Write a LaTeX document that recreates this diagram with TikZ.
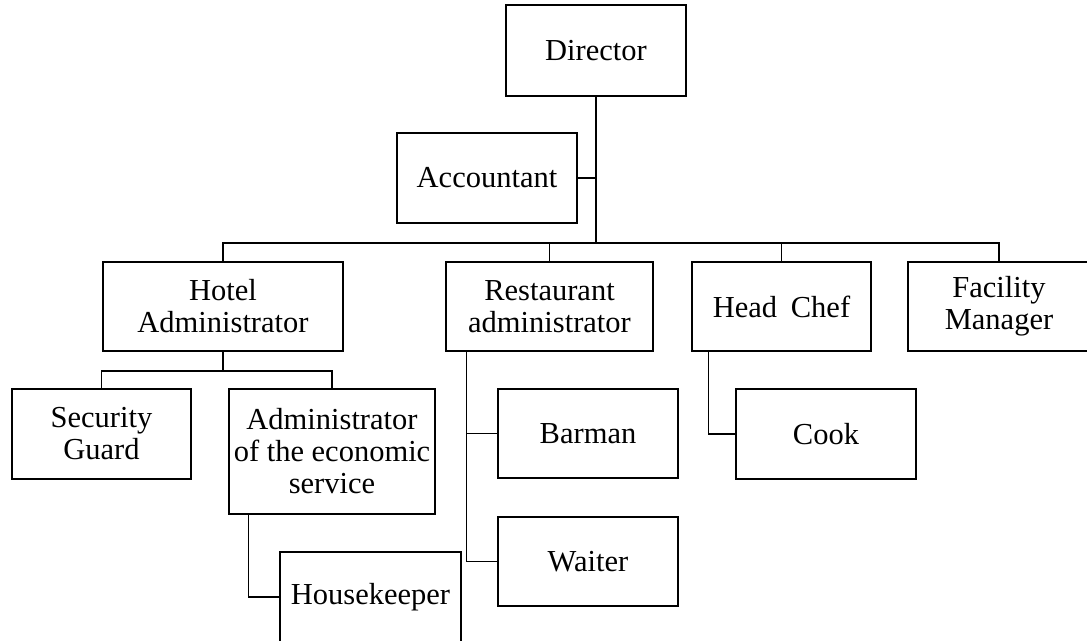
\documentclass[tikz,border=0pt]{standalone}
\usepackage{fontspec}
\setmainfont{Liberation Serif}
\usetikzlibrary{calc}
\tikzset{
  box/.style={draw=black, line width=1.5pt, fill=white, inner sep=0pt, align=center,
    font=\fontsize{30.5}{32}\selectfont},
  conn/.style={draw=black, line width=1.5pt}
}
\begin{document}
\begin{tikzpicture}[x=1pt,y=-1pt]
\useasboundingbox (0,0) rectangle (1087,640);
\clip (0,0) rectangle (1087,640);
\fill[white] (0,0) rectangle (1087,640);
% nodes
\node[box, minimum width=180, minimum height=91] (dir) at (596,50.5) {Director};
\node[box, minimum width=180, minimum height=90] (acc) at (487,178) {Accountant};
\node[box, minimum width=240, minimum height=89] (hotel) at (223,306.5) {Hotel\\Administrator};
\node[box, minimum width=207, minimum height=89] (rest) at (549.5,306.5) {Restaurant\\administrator};
\node[box, minimum width=179, minimum height=89] (chef) at (781.5,306.5) {Head\hspace{0.45em}Chef};
\node[box, minimum width=182, minimum height=89] (fac) at (999,306.5) {Facility\\Manager};
\node[box, minimum width=179, minimum height=90] (sec) at (101.5,434) {Security\\Guard};
\node[box, minimum width=206, minimum height=125] (econ) at (332,451.5) {Administrator\\of the economic\\service};
\node[box, minimum width=181, minimum height=90] (house) at (370.5,597) {Housekeeper};
\node[box, minimum width=180, minimum height=89] (bar) at (588,433.5) {Barman};
\node[box, minimum width=180, minimum height=89] (wait) at (588,561.5) {Waiter};
\node[box, minimum width=180, minimum height=90] (cook) at (826,434) {Cook};
% junction coordinates
\coordinate (bus) at (596,243);
\coordinate (sub) at (223,371);
\coordinate (rs) at ($(rest.south west)+(21,0)$);
\coordinate (cs) at ($(chef.south west)+(17,0)$);
\coordinate (es) at ($(econ.south west)+(20,0)$);
% connectors
\draw[conn] (dir.south) -- (bus);
\draw[conn] (acc.east) -- (acc.east -| bus);
\draw[conn] (hotel.north) -- (hotel.north |- bus) -- (fac.north |- bus) -- (fac.north);
\draw[conn] (rest.north) -- (rest.north |- bus);
\draw[conn] (chef.north) -- (chef.north |- bus);
\draw[conn] (hotel.south) -- (sub);
\draw[conn] (sec.north) -- (sec.north |- sub) -- (econ.north |- sub) -- (econ.north);
\draw[conn] (es) -- (es |- house.west) -- (house.west);
\draw[conn] (rs) -- (rs |- wait.west) -- (wait.west);
\draw[conn] (rs |- bar.west) -- (bar.west);
\draw[conn] (cs) -- (cs |- cook.west) -- (cook.west);
\end{tikzpicture}
\end{document}
